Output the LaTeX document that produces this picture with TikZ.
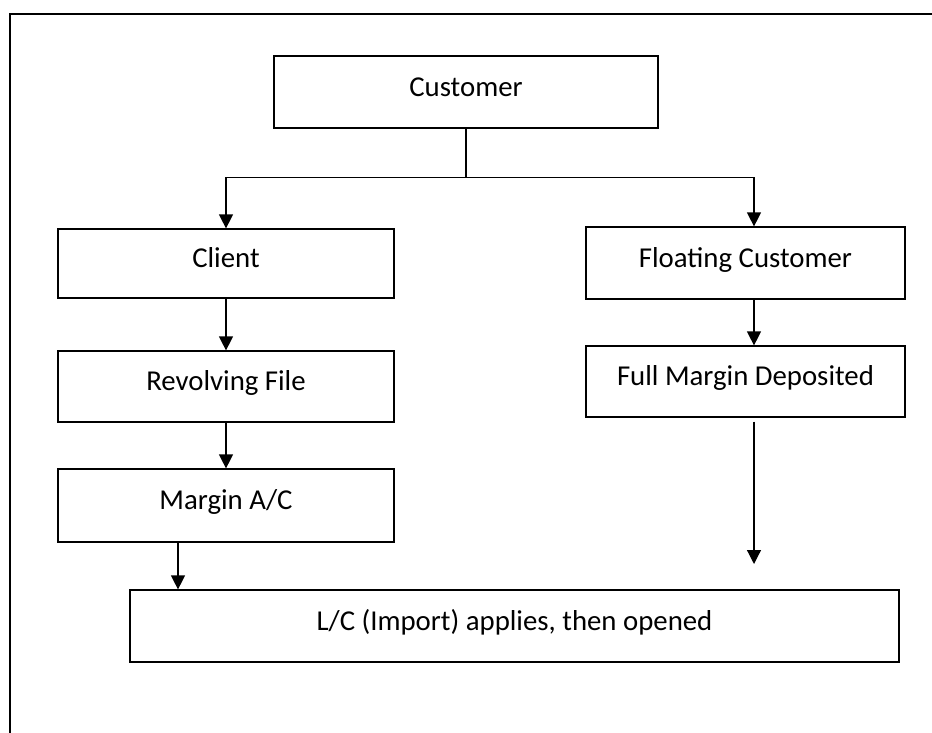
\documentclass[tikz,border=0pt]{standalone}
\usepackage{fontspec}
\setmainfont{Carlito}
\usetikzlibrary{arrows.meta}
\begin{document}
\begin{tikzpicture}[x = 1pt, y = -1pt, font = \fontsize{28.8pt}{34pt}\selectfont,
  box/.style = {draw, line width = 1.2pt, inner sep = 0pt, text height = 1em, text depth = 0.15em},
  arr/.style = {line width = 1.2pt, -{Triangle[length = 14pt, width = 14pt]}}]

\useasboundingbox (0,0) rectangle (932,733);
\draw[line width = 1.6pt] (10,733) -- (10,14) -- (932,14);

\node[box, minimum width = 384pt, minimum height = 72pt] (c) at (466,92) {Customer};
\node[box, minimum width = 336pt, minimum height = 69pt] (cl) at (226,263.5) {Client};
\node[box, minimum width = 336pt, minimum height = 71pt] (rf) at (226,386.5) {Revolving File};
\node[box, minimum width = 336pt, minimum height = 73pt] (ma) at (226,505.5) {Margin A/C};
\node[box, minimum width = 319pt, minimum height = 72pt] (fc) at (745.5,263) {Floating Customer};
\node[box, minimum width = 319pt, minimum height = 71pt] (fm) at (745.5,381.5) {Full Margin Deposited};
\node[box, minimum width = 769pt, minimum height = 72pt] (lc) at (514.5,626) {L/C (Import) applies, then opened};

\draw[line width = 1.2pt] (c.south) -- ++(0,49) coordinate (j);
\draw[arr] (j) -| ([xshift = 8.5pt]fc.north);
\draw[arr] (j) -| (cl.north);
\draw[arr] (cl) -- (rf);
\draw[arr] (rf) -- (ma);
\draw[arr] ([xshift = -48pt]ma.south) -- ([xshift = -48pt]ma.south |- lc.north);
\draw[arr] ([xshift = 8.5pt]fc.south) -- ([xshift = 8.5pt]fm.north);
\coordinate (e) at (754,564);
\draw[arr] ([xshift = 8.5pt, yshift = -4pt]fm.south) -- (e);

\end{tikzpicture}
\end{document}
